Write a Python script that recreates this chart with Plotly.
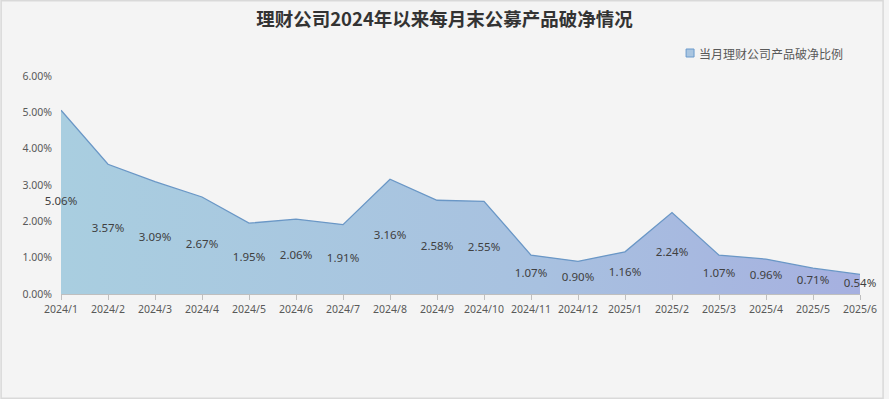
import plotly.graph_objects as go

months = ["2024/1", "2024/2", "2024/3", "2024/4", "2024/5", "2024/6", "2024/7", "2024/8",
          "2024/9", "2024/10", "2024/11", "2024/12", "2025/1", "2025/2", "2025/3", "2025/4",
          "2025/5", "2025/6"]
ratio = [5.06, 3.57, 3.09, 2.67, 1.95, 2.06, 1.91, 3.16, 2.58, 2.55, 1.07, 0.90, 1.16, 2.24,
         1.07, 0.96, 0.71, 0.54]
series_name = "当月理财公司产品破净比例"
title = "理财公司2024年以来每月末公募产品破净情况"

vals = [v / 100 for v in ratio]
mid = [v / 2 for v in vals]
labels = [f"{v:.2f}%" for v in ratio]

W, H = 889, 399
ML, MR, MT, MB = 61, 24, 76, 105
pw = W - ML - MR
ph = H - MT - MB

fig = go.Figure()
fig.add_trace(go.Scatter(
    x=months, y=vals, mode="lines", fill="tozeroy",
    line=dict(color="#6a97c6", width=1.3),
    fillgradient=dict(type="horizontal",
                      colorscale=[[0, "#a9cee0"], [0.6, "#a8c1e0"], [1, "#a6b0e0"]]),
    showlegend=False, hoverinfo="skip"))
fig.add_trace(go.Scatter(
    x=months, y=mid, mode="text", text=labels, cliponaxis=False,
    textfont=dict(family="Noto Sans, Noto Sans CJK SC", size=11.5, color="#404040"),
    showlegend=False, hoverinfo="skip"))

fig.update_layout(
    width=W, height=H,
    margin=dict(l=ML, r=MR, t=MT, b=MB),
    paper_bgcolor="#f4f4f4", plot_bgcolor="#f4f4f4",
    showlegend=False,
    title=dict(text=f"<b>{title}</b>", x=0.5, xanchor="center", y=0.95, yanchor="middle",
               font=dict(family="Noto Sans CJK SC", size=18.5, color="#333333")),
    xaxis=dict(type="category", range=[0, len(months) - 1], showgrid=False,
               showline=True, linecolor="#bfbfbf", linewidth=1,
               ticks="outside", ticklen=5, tickcolor="#bfbfbf",
               tickfont=dict(family="Noto Sans", size=10.5, color="#595959"),
               tickangle=0),
    yaxis=dict(range=[0, 0.06], tickvals=[0, 0.01, 0.02, 0.03, 0.04, 0.05, 0.06],
               tickformat=".2%", showgrid=False, zeroline=False, showline=False,
               ticks="", ticklabelstandoff=8,
               tickfont=dict(family="Noto Sans", size=10.5, color="#595959")),
)

# legend drawn as swatch + text
lx = (690 - ML) / pw
ly = 1 + (MT - 53) / ph
fig.add_shape(type="rect", xref="paper", yref="paper",
              x0=lx, x1=lx + 8 / pw, y0=ly - 4 / ph, y1=ly + 4 / ph,
              fillcolor="#a9c5e0", line=dict(color="#6a9acc", width=1))
fig.add_annotation(xref="paper", yref="paper", x=lx + 11 / pw, y=ly, xanchor="left",
                   yanchor="middle", showarrow=False, text=series_name,
                   font=dict(family="Noto Sans CJK SC", size=12, color="#595959"))

fig.add_shape(type="rect", xref="paper", yref="paper",
              x0=-(ML - 0.75) / pw, x1=1 + (MR - 0.75) / pw,
              y0=-(MB - 0.75) / ph, y1=1 + (MT - 0.75) / ph,
              line=dict(color="#d9d9d9", width=1.5), layer="below")

fig.write_html("out.html", config={"displayModeBar": False},
               post_script="document.body.style.margin='0';document.body.style.overflow='hidden';")
